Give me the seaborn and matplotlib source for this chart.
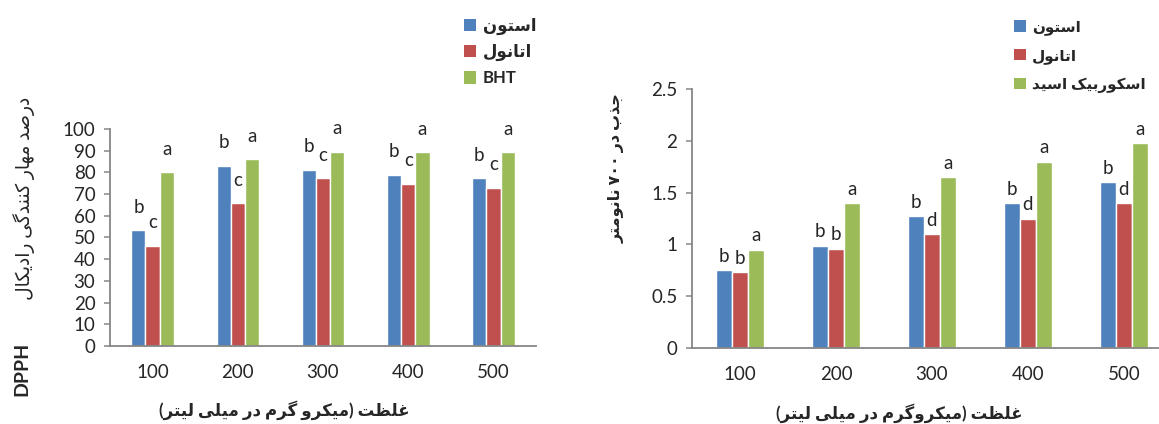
import numpy as np
import pandas as pd
import seaborn as sns
import matplotlib.pyplot as plt
import matplotlib.ticker as ticker
from matplotlib.patches import Patch

# concentration groups (ug/ml)
concentrations = ["100", "200", "300", "400", "500"]

# left panel: DPPH radical scavenging (%)
dpph_acetone = [53.3, 83.0, 81.3, 78.9, 77.2]
dpph_ethanol = [46.2, 65.7, 77.3, 74.7, 73.0]
dpph_bht = [80.2, 86.2, 89.6, 89.4, 89.3]
dpph_let_acetone = ["b", "b", "b", "b", "b"]
dpph_let_ethanol = ["c", "c", "c", "c", "c"]
dpph_let_bht = ["a", "a", "a", "a", "a"]
names_left = ["استون", "اتانول", "BHT"]

# right panel: absorbance at 700 nm
abs_acetone = [0.75, 0.99, 1.27, 1.40, 1.60]
abs_ethanol = [0.73, 0.96, 1.10, 1.25, 1.40]
abs_ascorbic = [0.95, 1.40, 1.65, 1.80, 1.98]
abs_let_acetone = ["b", "b", "b", "b", "b"]
abs_let_ethanol = ["b", "b", "d", "d", "d"]
abs_let_ascorbic = ["a", "a", "a", "a", "a"]
names_right = ["استون", "اتانول", "اسکوربیک اسید"]

colors = ["#4F81BD", "#C0504D", "#9BBB59"]
axis_grey = "#868686"

# --- minimal Persian shaping (matplotlib has no complex text layout) ---
# letter: (isolated, final, initial, medial); two-form letters only join to the right
FORMS = {
    "ا": "\uFE8D\uFE8E", "ب": "\uFE8F\uFE90\uFE91\uFE92", "ت": "\uFE95\uFE96\uFE97\uFE98",
    "ج": "\uFE9D\uFE9E\uFE9F\uFEA0", "د": "\uFEA9\uFEAA", "ذ": "\uFEAB\uFEAC",
    "ر": "\uFEAD\uFEAE", "س": "\uFEB1\uFEB2\uFEB3\uFEB4", "ص": "\uFEB9\uFEBA\uFEBB\uFEBC",
    "ظ": "\uFEC5\uFEC6\uFEC7\uFEC8", "غ": "\uFECD\uFECE\uFECF\uFED0",
    "ل": "\uFEDD\uFEDE\uFEDF\uFEE0", "م": "\uFEE1\uFEE2\uFEE3\uFEE4",
    "ن": "\uFEE5\uFEE6\uFEE7\uFEE8", "ه": "\uFEE9\uFEEA\uFEEB\uFEEC", "و": "\uFEED\uFEEE",
    "ک": "\uFB8E\uFB8F\uFB90\uFB91", "گ": "\uFB92\uFB93\uFB94\uFB95",
    "ی": "\uFBFC\uFBFD\uFBFE\uFBFF",
}
MIRROR = {"(": ")", ")": "("}


def is_ltr(ch):
    return ch.isascii() and ch.isalnum() or "\u06F0" <= ch <= "\u06F9" or ch == "."


def fa(text):
    shaped = []
    for i, ch in enumerate(text):
        if ch not in FORMS:
            shaped.append(ch)
            continue
        f = FORMS[ch]
        prev = i > 0 and text[i - 1] in FORMS and len(FORMS[text[i - 1]]) == 4
        nxt = len(f) == 4 and i + 1 < len(text) and text[i + 1] in FORMS
        if prev and nxt:
            shaped.append(f[3])
        elif prev:
            shaped.append(f[1])
        elif nxt:
            shaped.append(f[2])
        else:
            shaped.append(f[0])
    # split into runs, reverse for right-to-left display
    runs = []
    for ch in shaped:
        kind = is_ltr(ch)
        if runs and runs[-1][0] == kind:
            runs[-1][1].append(ch)
        else:
            runs.append([kind, [ch]])
    out = ""
    for kind, chars in reversed(runs):
        if kind:
            out += "".join(chars)
        else:
            out += "".join(MIRROR.get(c, c) for c in reversed(chars))
    return out


sns.set_style("ticks")
plt.rcParams["font.family"] = ["Lato", "DejaVu Sans"]

fig = plt.figure(figsize=(11.59, 4.24), dpi=100)
ax1 = fig.add_axes([0.0949, 0.184, 0.3676, 0.5118])
ax2 = fig.add_axes([0.597, 0.179, 0.4142, 0.611])


def draw_panel(ax, series, names, letters, ylim, ystep, letter_off,
               legend_xy, legend_size, legend_space):
    df = pd.DataFrame({
        "conc": concentrations * len(series),
        "value": sum(series, []),
        "group": np.repeat(names, len(concentrations)),
    })
    sns.barplot(data=df, x="conc", y="value", hue="group", order=concentrations,
                hue_order=names, palette=colors, width=0.5, saturation=1,
                errorbar=None, legend=False, ax=ax)
    for cont, lets in zip(ax.containers, letters):
        for bar, t in zip(cont, lets):
            ax.annotate(t, (bar.get_x() + bar.get_width() / 2, bar.get_height()),
                        xytext=(0, letter_off), textcoords="offset points",
                        ha="center", va="center", fontsize=13.5,
                        annotation_clip=False)
    ax.set_ylim(*ylim)
    ax.set_xlim(-0.5, len(concentrations) - 0.5)
    ax.yaxis.set_major_locator(ticker.MultipleLocator(ystep))
    ax.yaxis.set_major_formatter(ticker.FuncFormatter(lambda v, _: f"{v:g}"))
    ax.set_xlabel("")
    ax.set_ylabel("")
    sns.despine(ax=ax)
    for s in ["left", "bottom"]:
        ax.spines[s].set_color(axis_grey)
        ax.spines[s].set_linewidth(1.3)
    ax.tick_params(axis="y", direction="out", length=4.5, width=1.1,
                   color=axis_grey, pad=6, labelsize=13.5)
    ax.tick_params(axis="x", length=0, pad=13, labelsize=13.5)

    handles = [Patch(facecolor=c, edgecolor="none") for c in colors]
    ax.legend(handles, [fa(n) for n in names], loc="upper left",
              bbox_to_anchor=legend_xy, bbox_transform=fig.transFigure,
              frameon=False, prop={"weight": "bold", "size": legend_size},
              handlelength=0.75, handleheight=0.75, handletextpad=0.4,
              labelspacing=legend_space, borderpad=0, borderaxespad=0)


draw_panel(ax1, [dpph_acetone, dpph_ethanol, dpph_bht], names_left,
           [dpph_let_acetone, dpph_let_ethanol, dpph_let_bht],
           (0, 100), 10, 16.5, (0.400, 0.958), 12, 0.55)
draw_panel(ax2, [abs_acetone, abs_ethanol, abs_ascorbic], names_right,
           [abs_let_acetone, abs_let_ethanol, abs_let_ascorbic],
           (0, 2.5), 0.5, 10, (0.875, 0.952), 11, 0.9)

# axis titles
fig.text(0.245, 0.033, fa("غلظت (میکرو گرم در میلی لیتر)"), ha="center",
         va="center", fontsize=12, weight="bold")
fig.text(0.776, 0.026, fa("غلظت (میکروگرم در میلی لیتر)"), ha="center",
         va="center", fontsize=12, weight="bold")
fig.text(0.021, 0.532, fa("درصد مهار کنندگی رادیکال"), rotation=90,
         ha="center", va="center", fontsize=13.5)
fig.text(0.019, 0.131, "DPPH", rotation=90, ha="center", va="center",
         fontsize=14, weight="bold")
fig.text(0.532, 0.604, fa("جذب در ۷۰۰ نانومتر"), rotation=90,
         ha="center", va="center", fontsize=11.5, weight="bold")

fig.savefig("out.png", dpi=100)
